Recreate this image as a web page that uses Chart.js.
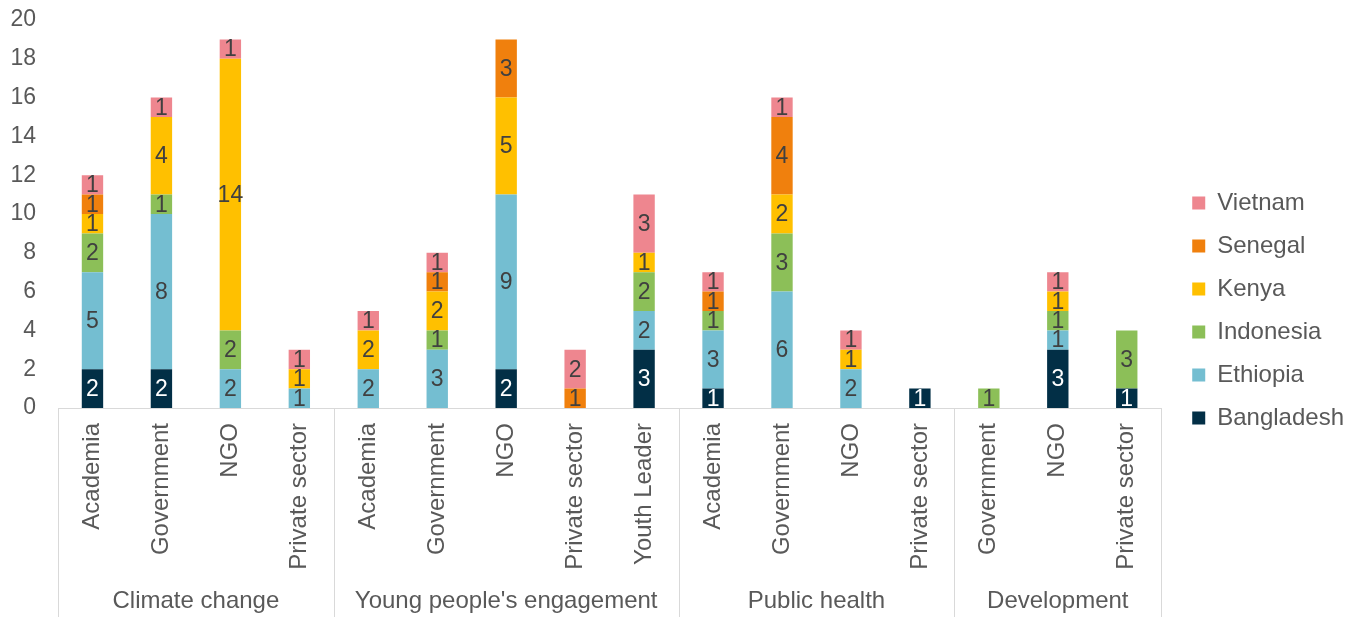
<!DOCTYPE html>
<html>
<head>
<meta charset="utf-8">
<script src="https://cdn.jsdelivr.net/npm/chart.js@4.4.0/dist/chart.umd.min.js"></script>
<style>
  html, body { margin: 0; padding: 0; background: #fff; }
  #wrap { width: 1359px; height: 617px; position: relative; }
</style>
</head>
<body>
<div id="wrap"><canvas id="chart"></canvas></div>
<script>
// Sub-categories along the x axis, and the groups they sit under
const categories = [
    'Academia', 'Government', 'NGO', 'Private sector',
    'Academia', 'Government', 'NGO', 'Private sector', 'Youth Leader',
    'Academia', 'Government', 'NGO', 'Private sector',
    'Government', 'NGO', 'Private sector'
];
const groups = ['Climate change', "Young people's engagement", 'Public health', 'Development'];
const groupSizes = [4, 5, 4, 3];

// Series values, one per country
const bangladesh = [2, 2, 0, 0, 0, 0, 2, 0, 3, 1, 0, 0, 1, 0, 3, 1];
const ethiopia   = [5, 8, 2, 1, 2, 3, 9, 0, 2, 3, 6, 2, 0, 0, 1, 0];
const indonesia  = [2, 1, 2, 0, 0, 1, 0, 0, 2, 1, 3, 0, 0, 1, 1, 3];
const kenya      = [1, 4, 14, 1, 2, 2, 5, 0, 1, 0, 2, 1, 0, 0, 1, 0];
const senegal    = [1, 0, 0, 0, 0, 1, 3, 1, 0, 1, 4, 0, 0, 0, 0, 0];
const vietnam    = [1, 1, 1, 1, 1, 1, 0, 2, 3, 1, 1, 1, 0, 0, 1, 0];

// Y axis range
const yMin = 0;
const yMax = 20;
const yStep = 2;

const FONT = 'Liberation Sans, Arial, sans-serif';
const GREY = '#595959';
const LINE = '#d9d9d9';

const series = [
    { label: 'Bangladesh', data: bangladesh, color: '#022f46', text: '#ffffff' },
    { label: 'Ethiopia', data: ethiopia, color: '#74bed1', text: '#404040' },
    { label: 'Indonesia', data: indonesia, color: '#8cbf58', text: '#404040' },
    { label: 'Kenya', data: kenya, color: '#ffc000', text: '#404040' },
    { label: 'Senegal', data: senegal, color: '#f0800d', text: '#404040' },
    { label: 'Vietnam', data: vietnam, color: '#ee868f', text: '#404040' }
];

// Numbers inside each stacked segment
const valueLabels = {
    id: 'valueLabels',
    afterDatasetsDraw(chart) {
        const ctx = chart.ctx;
        ctx.save();
        ctx.font = '23px ' + FONT;
        ctx.textAlign = 'center';
        ctx.textBaseline = 'middle';
        chart.data.datasets.forEach((ds, i) => {
            const meta = chart.getDatasetMeta(i);
            meta.data.forEach((bar, j) => {
                const v = ds.data[j];
                if (!v) return;
                const p = bar.getProps(['x', 'y', 'base'], true);
                ctx.fillStyle = ds.labelColor;
                ctx.fillText(String(v), p.x, (p.y + p.base) / 2 + 1);
            });
        });
        ctx.restore();
    }
};

// Second level of the category axis: separators and group names
const groupAxis = {
    id: 'groupAxis',
    afterDraw(chart) {
        const ctx = chart.ctx;
        const xs = chart.scales.x;
        ctx.save();
        ctx.strokeStyle = LINE;
        ctx.lineWidth = 1;
        ctx.fillStyle = GREY;
        ctx.font = '24px ' + FONT;
        ctx.textAlign = 'center';
        ctx.textBaseline = 'middle';
        let start = 0;
        const edges = [xs.getPixelForValue(-0.5)];
        groupSizes.forEach((n, g) => {
            const left = xs.getPixelForValue(start - 0.5);
            const right = xs.getPixelForValue(start + n - 0.5);
            edges.push(right);
            ctx.fillText(groups[g], (left + right) / 2, xs.top + 193);
            start += n;
        });
        edges.forEach(px => {
            const x = Math.round(px) + 0.5;
            ctx.beginPath();
            ctx.moveTo(x, xs.top);
            ctx.lineTo(x, chart.height);
            ctx.stroke();
        });
        ctx.restore();
    }
};

const ctx = document.getElementById('chart').getContext('2d');
new Chart(ctx, {
    type: 'bar',
    data: {
        labels: categories,
        datasets: series.map(s => ({
            label: s.label,
            data: s.data,
            backgroundColor: s.color,
            borderWidth: 0,
            labelColor: s.text
        }))
    },
    options: {
        responsive: true,
        maintainAspectRatio: false,
        animation: false,
        layout: { padding: { top: 4, right: 5 } },
        datasets: { bar: { categoryPercentage: 1, barPercentage: 0.31 } },
        plugins: {
            legend: {
                position: 'right',
                reverse: true,
                labels: {
                    boxWidth: 13,
                    boxHeight: 13,
                    padding: 19,
                    color: GREY,
                    font: { family: FONT, size: 24 }
                }
            },
            tooltip: { enabled: false }
        },
        scales: {
            x: {
                stacked: true,
                grid: { display: false, drawTicks: false },
                border: { display: true, color: LINE, width: 1 },
                ticks: {
                    autoSkip: false,
                    maxRotation: 90,
                    minRotation: 90,
                    padding: 15,
                    color: GREY,
                    font: { family: FONT, size: 24 }
                },
                afterFit: s => { s.height = 209; }
            },
            y: {
                stacked: true,
                min: yMin,
                max: yMax,
                grid: { display: false, drawTicks: false },
                border: { display: false },
                ticks: {
                    stepSize: yStep,
                    padding: 22,
                    color: GREY,
                    font: { family: FONT, size: 23 }
                },
                afterFit: s => { s.width = 58; s.paddingTop = 20; }
            },
            // spacer so the plot ends before the legend like in the original
            yR: {
                position: 'right',
                display: true,
                grid: { display: false, drawTicks: false },
                border: { display: false },
                ticks: { display: false },
                afterFit: s => { s.width = 12; }
            }
        }
    },
    plugins: [valueLabels, groupAxis]
});
</script>
</body>
</html>
